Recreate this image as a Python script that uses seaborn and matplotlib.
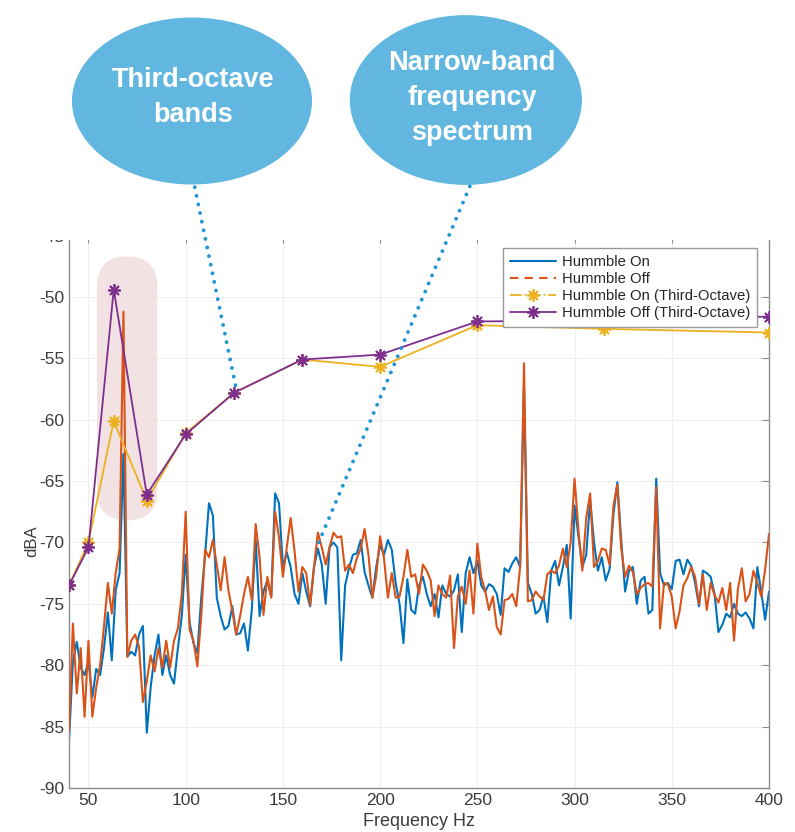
import seaborn as sns
import matplotlib.pyplot as plt
from matplotlib.patches import Ellipse, FancyBboxPatch, Rectangle, ConnectionPatch
from matplotlib.lines import Line2D

# narrow-band spectrum, 2 Hz bins from 40 to 400 Hz
freq = list(range(40, 401, 2))
hum_on = [
    -86.2, -79.7, -78.1, -80.2, -80.8, -79.7, -82.6, -80.3, -80.8, -78.6,   # 40-58
    -75.7, -79.6, -73.9, -72.5, -62.8, -79.3, -78.9, -79.2, -77.5, -76.8,   # 60-78
    -85.5, -81.8, -79.2, -77.5, -80.8, -79.2, -80.8, -81.5, -78.6, -76.0,   # 80-98
    -71.0, -76.5, -78.2, -79.0, -74.5, -71.0, -66.8, -67.8, -74.5, -76.0,   # 100-118
    -77.1, -76.8, -75.2, -77.5, -77.4, -76.6, -78.8, -75.5, -69.8, -76.0,   # 120-138
    -74.0, -73.1, -74.4, -66.0, -66.8, -72.0, -70.8, -72.0, -74.2, -75.0,   # 140-158
    -72.5, -74.0, -75.2, -72.0, -70.5, -71.8, -75.0, -70.4, -70.0, -70.4,   # 160-178
    -79.6, -73.5, -72.1, -71.0, -70.9, -69.8, -72.4, -73.5, -74.5, -72.0,   # 180-198
    -70.2, -71.0, -69.8, -70.6, -73.3, -75.0, -78.2, -73.0, -75.5, -75.8,   # 200-218
    -73.5, -72.8, -74.2, -75.2, -74.2, -76.1, -73.5, -74.2, -74.4, -73.9,   # 220-238
    -72.6, -77.3, -72.5, -71.2, -72.5, -71.5, -73.5, -74.0, -73.4, -73.6,   # 240-258
    -74.2, -75.9, -72.1, -72.4, -71.7, -71.2, -72.0, -57.4, -73.3, -74.2,   # 260-278
    -75.8, -75.5, -74.4, -76.5, -72.3, -71.5, -73.5, -72.0, -70.2, -76.2,   # 280-298
    -67.0, -69.5, -72.0, -71.0, -66.5, -70.0, -72.3, -71.2, -73.1, -72.2,   # 300-318
    -67.7, -65.1, -69.8, -74.0, -72.3, -72.0, -75.0, -73.1, -72.8, -75.8,   # 320-338
    -75.5, -64.8, -72.5, -73.5, -73.3, -73.8, -71.5, -71.4, -72.6, -71.4,   # 340-358
    -71.9, -73.3, -75.2, -72.3, -72.5, -72.8, -74.2, -77.3, -76.7, -75.8,   # 360-378
    -76.1, -75.0, -75.8, -76.0, -75.7, -76.2, -77.0, -72.0, -74.0, -76.3,   # 380-398
    -74.0,                                                                  # 400
]
hum_off = [
    -85.3, -76.6, -82.3, -78.6, -84.2, -78.0, -84.2, -81.8, -80.0, -76.8,
    -73.3, -75.8, -72.5, -70.5, -51.2, -79.3, -78.0, -77.5, -78.5, -83.0,
    -81.3, -79.2, -80.5, -78.6, -80.2, -78.0, -80.2, -78.0, -77.0, -74.2,
    -67.5, -77.1, -78.0, -80.1, -76.0, -70.6, -71.2, -69.8, -71.8, -73.9,
    -71.2, -73.9, -75.6, -77.5, -76.0, -74.2, -72.8, -74.7, -68.5, -71.2,
    -75.9, -72.8, -74.5, -67.5, -69.6, -72.8, -70.4, -68.0, -70.7, -74.0,
    -72.0, -72.5, -75.1, -72.0, -69.2, -70.4, -71.8, -70.4, -69.2, -69.6,
    -69.5, -72.3, -71.8, -72.5, -71.3, -70.5, -68.9, -71.0, -74.5, -72.7,
    -69.5, -71.3, -74.5, -72.5, -74.5, -74.4, -72.8, -70.6, -72.8, -72.6,
    -74.2, -71.8, -72.3, -73.1, -76.0, -73.5, -74.2, -74.5, -72.7, -78.6,
    -74.4, -73.6, -75.0, -72.3, -75.8, -70.1, -72.8, -73.9, -75.5, -74.4,
    -76.9, -77.5, -74.7, -74.6, -74.2, -75.2, -72.0, -55.4, -74.8, -74.7,
    -74.0, -74.4, -74.7, -72.6, -72.3, -72.5, -71.9, -70.5, -72.0, -70.0,
    -64.8, -69.0, -72.3, -68.0, -66.0, -72.0, -71.5, -70.5, -70.6, -71.8,
    -67.0, -65.3, -70.5, -72.8, -71.9, -72.4, -74.2, -73.7, -73.4, -73.3,
    -73.6, -65.5, -77.0, -73.3, -73.4, -74.4, -77.0, -75.6, -73.5, -72.9,
    -72.0, -72.8, -75.0, -72.6, -75.5, -73.3, -74.3, -74.9, -73.7, -75.5,
    -73.3, -78.0, -73.8, -72.1, -74.8, -74.2, -72.3, -73.3, -74.4, -72.2,
    -69.3,
]

# third-octave band levels
bands = [40, 50, 63, 80, 100, 125, 160, 200, 250, 315, 400]
band_on = [-73.5, -70.0, -60.1, -66.6, -61.1, -57.8, -55.1, -55.7, -52.3, -52.6, -52.9]
band_off = [-73.5, -70.4, -49.4, -66.1, -61.2, -57.8, -55.1, -54.7, -52.0, -51.9, -51.6]

labels = ['Hummble On', 'Hummble Off',
          'Hummble On (Third-Octave)', 'Hummble Off (Third-Octave)']
colors = ['#0072BD', '#D95319', '#EDB120', '#7E2F8E']

sns.set_style('white')
plt.rcParams['font.family'] = ['Liberation Sans', 'DejaVu Sans']
plt.rcParams['axes.unicode_minus'] = False

fig = plt.figure(figsize=(7.95, 8.32), dpi=100)
ax = fig.add_axes([0.0868, 0.0529, 0.8805, 0.664])

# highlight around the 63 Hz band
hl = FancyBboxPatch((54.4, -68.2), 31, 21.5,
                    boxstyle='round,pad=0,rounding_size=15.5',
                    mutation_aspect=0.157, fc='#eccfd1', ec='none',
                    alpha=0.6, zorder=1)
ax.add_patch(hl)

star = (8, 2, 0)
sns.lineplot(x=freq, y=hum_on, ax=ax, color=colors[0], lw=1.5, zorder=2)
sns.lineplot(x=freq, y=hum_off, ax=ax, color=colors[1], lw=1.5, zorder=3)
sns.lineplot(x=bands, y=band_on, ax=ax, color=colors[2], lw=1.3, marker=star,
             markersize=9, markeredgecolor=colors[2], markeredgewidth=1.3, zorder=4)
sns.lineplot(x=bands, y=band_off, ax=ax, color=colors[3], lw=1.3, marker=star,
             markersize=9, markeredgecolor=colors[3], markeredgewidth=1.3, zorder=5)

ax.set_xlim(40, 400)
ax.set_ylim(-90, -45)
ax.set_xticks(range(50, 401, 50))
ax.set_yticks(range(-90, -44, 5))
ax.grid(True, color='#efefef', lw=0.8)
ax.set_axisbelow(True)
ax.tick_params(direction='in', length=5, top=True, right=True,
               colors='#8c8c8c', labelcolor='#3c3c3c', labelsize=12.5)
for s in ax.spines.values():
    s.set_color('#8c8c8c')
    s.set_linewidth(1)
ax.set_xlabel('Frequency Hz', fontsize=13, color='#3c3c3c', labelpad=4)
ax.set_ylabel('dBA', fontsize=12, color='#3c3c3c')
ax.yaxis.set_label_coords(-0.043, 0.447)

handles = [
    Line2D([], [], color=colors[0], lw=1.5),
    Line2D([], [], color=colors[1], lw=1.5, ls=(0, (4, 3))),
    Line2D([], [], color=colors[2], lw=1.3, ls='-.', marker=star, ms=9, mew=1.3),
    Line2D([], [], color=colors[3], lw=1.3, marker=star, ms=9, mew=1.3),
]
leg = ax.legend(handles, labels, loc='upper right', bbox_to_anchor=(0.983, 0.977),
                fontsize=10.7, frameon=True, fancybox=False, edgecolor='#9a9a9a',
                framealpha=1, handlelength=3.1, handletextpad=0.4,
                labelspacing=0.2, borderpad=0.45, borderaxespad=0)
leg.get_frame().set_linewidth(1)
for t in leg.get_texts():
    t.set_color('#262626')

# white strip hiding the top of the axes, then the callouts
fig.add_artist(Rectangle((0, 1 - 240 / 832), 1, 240 / 832, transform=fig.transFigure,
                         fc='white', ec='none', zorder=1))

bubble = '#61b7e0'
fig.add_artist(Ellipse((0.2415, 0.8786), 0.302, 0.2007, transform=fig.transFigure,
                       fc=bubble, ec='none', zorder=2))
fig.add_artist(Ellipse((0.586, 0.8798), 0.292, 0.204, transform=fig.transFigure,
                       fc=bubble, ec='none', zorder=2))

txt_kw = dict(ha='center', va='center', color='white', fontsize=19.5, fontweight='bold',
              family=['Liberation Sans Narrow', 'Liberation Sans', 'DejaVu Sans'],
              linespacing=1.45, zorder=4)
fig.text(0.243, 0.8834, 'Third-octave\nbands', **txt_kw)
fig.text(0.594, 0.882, 'Narrow-band\nfrequency\nspectrum', **txt_kw)

dot_kw = dict(color='#1f97d4', lw=2.8, linestyle=(0, (0.01, 2.25)),
              capstyle='round', zorder=3)
fig.add_artist(ConnectionPatch(xyA=(0.245, 0.775), coordsA=fig.transFigure,
                               xyB=(126, -57.5), coordsB=ax.transData, **dot_kw))
fig.add_artist(ConnectionPatch(xyA=(0.591, 0.776), coordsA=fig.transFigure,
                               xyB=(166.8, -70.6), coordsB=ax.transData, **dot_kw))

fig.savefig('out.png', dpi=100)
